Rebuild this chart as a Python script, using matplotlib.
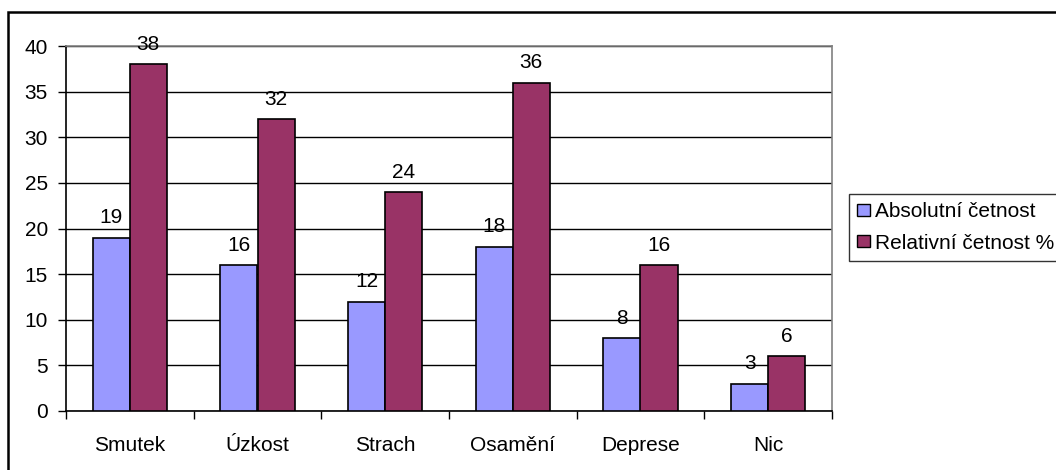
import matplotlib
matplotlib.use("Agg")
import matplotlib.pyplot as plt
from matplotlib.patches import Rectangle, Patch
import numpy as np

categories = ["Smutek", "Úzkost", "Strach", "Osamění", "Deprese", "Nic"]
absolutni = [19, 16, 12, 18, 8, 3]
relativni = [38, 32, 24, 36, 16, 6]
series_names = ["Absolutní četnost", "Relativní četnost %"]
y_ticks = [0, 5, 10, 15, 20, 25, 30, 35, 40]

plt.rcParams["font.family"] = ["Liberation Sans", "DejaVu Sans"]
FS = 15

fig = plt.figure(figsize=(10.56, 4.70), dpi=100)
W, H = 1056, 470
ax = fig.add_axes([66 / W, 1 - 411 / H, (832 - 66) / W, (411 - 46) / H])

x = np.arange(len(categories))
bw = 0.29
b1 = ax.bar(x - bw / 2, absolutni, bw, color="#9999FF", edgecolor="black", linewidth=1.2, zorder=3)
b2 = ax.bar(x + bw / 2, relativni, bw, color="#993366", edgecolor="black", linewidth=1.2, zorder=3)

for bars, vals in ((b1, absolutni), (b2, relativni)):
    for r, v in zip(bars, vals):
        ax.annotate(str(v), (r.get_x() + r.get_width() / 2, v), xytext=(0, 7.5),
                    textcoords="offset points", ha="center", va="bottom", fontsize=FS)

ax.set_xlim(-0.5, len(categories) - 0.5)
ax.set_ylim(0, 40)
ax.set_yticks(y_ticks)
ax.set_yticklabels([str(t) for t in y_ticks], fontsize=FS)
ax.set_xticks(np.arange(len(categories) + 1) - 0.5)
ax.set_xticklabels([])
ax.set_xticks(x, minor=True)
ax.set_xticklabels(categories, minor=True, fontsize=FS)
ax.tick_params(axis="x", which="minor", length=0, pad=18)
ax.tick_params(axis="x", which="major", direction="out", length=6, width=1, color="black")
ax.tick_params(axis="y", direction="out", length=6, width=1, color="black", pad=7)

ax.grid(axis="y", color="black", linewidth=1, zorder=0)
ax.set_axisbelow(True)
for s in ("top", "right"):
    ax.spines[s].set_color("#808080")
    ax.spines[s].set_linewidth(1.2)
for s in ("left", "bottom"):
    ax.spines[s].set_color("black")
    ax.spines[s].set_linewidth(1.2)

# outer chart frame (right and bottom edges fall outside the canvas)
top = 1 - 12 / H
fig.patches.append(Rectangle((8 / W, -0.2), 1.2, top + 0.2, transform=fig.transFigure,
                             fill=False, edgecolor="black", linewidth=1.8))

handles = [Patch(facecolor="#9999FF", edgecolor="black"),
           Patch(facecolor="#993366", edgecolor="black")]
leg = fig.legend(handles, series_names, loc="upper left", bbox_to_anchor=(849 / W, 1 - 194 / H),
                 frameon=True, fancybox=False, fontsize=FS, handlelength=0.6, handleheight=0.5,
                 handletextpad=0.25, borderpad=0.4, borderaxespad=0, labelspacing=0.6)
leg.get_frame().set_edgecolor("black")
leg.get_frame().set_linewidth(1)

fig.savefig("out.png", dpi=100)
